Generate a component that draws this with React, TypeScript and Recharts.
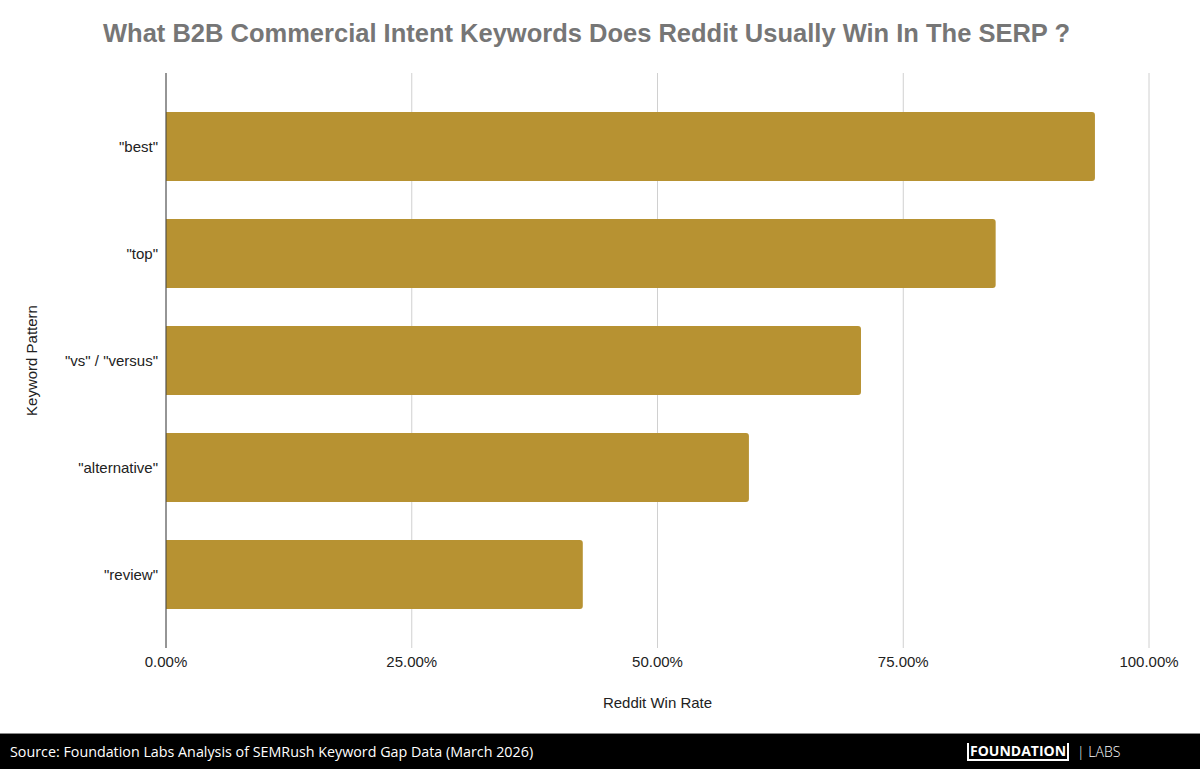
import { Bar, BarChart, CartesianGrid, XAxis, YAxis } from 'recharts';

const CATEGORIES = ['"best"', '"top"', '"vs" / "versus"', '"alternative"', '"review"'];
const WIN_RATE = [0.945, 0.844, 0.707, 0.593, 0.424];
const X_TICKS = [0, 0.25, 0.5, 0.75, 1];

const TITLE = 'What B2B Commercial Intent Keywords Does Reddit Usually Win In The SERP ?';
const SOURCE = 'Source: Foundation Labs Analysis of SEMRush Keyword Gap Data (March 2026)';

const BAR_COLOR = '#B79232';
const SANS = '"Liberation Sans", Arial, sans-serif';

const data = CATEGORIES.map((name, i) => ({ name, rate: WIN_RATE[i] }));

export default function App() {
  return (
    <div style={{ position: 'fixed', left: 0, top: 0, width: 1200, height: 769, background: '#fff', overflow: 'hidden', fontFamily: SANS }}>
      <div style={{ position: 'absolute', left: 103, top: 19, whiteSpace: 'nowrap', fontSize: 25.5, fontWeight: 700, color: '#767676' }}>
        {TITLE}
      </div>

      <div style={{ position: 'absolute', left: 0, top: 0 }}>
        <BarChart
          width={1200}
          height={733}
          data={data}
          layout="vertical"
          margin={{ top: 73, right: 51, bottom: 0, left: 10 }}
          barCategoryGap="17.8%"
        >
          <CartesianGrid horizontal={false} stroke="#d0d0d0" />
          <XAxis
            type="number"
            domain={[0, 1]}
            ticks={X_TICKS}
            tickFormatter={(v: number) => `${(v * 100).toFixed(2)}%`}
            axisLine={false}
            tickLine={false}
            height={85}
            tick={{ fontSize: 15, fill: '#222', fontFamily: SANS }}
            label={{ value: 'Reddit Win Rate', position: 'insideBottom', offset: 25, style: { fontSize: 15, fill: '#222', fontFamily: SANS } }}
          />
          <YAxis
            type="category"
            dataKey="name"
            width={156}
            padding={{ top: 20, bottom: 20 }}
            axisLine={{ stroke: '#444' }}
            tickLine={false}
            tick={{ fontSize: 15, fill: '#222', fontFamily: SANS }}
            label={{ value: 'Keyword Pattern', angle: -90, position: 'insideLeft', offset: 22, style: { textAnchor: 'middle', fontSize: 15, fill: '#222', fontFamily: SANS } }}
          />
          <Bar dataKey="rate" fill={BAR_COLOR} radius={[0, 3, 3, 0]} isAnimationActive={false} />
        </BarChart>
      </div>

      <div style={{ position: 'absolute', left: 0, top: 733, width: 1200, height: 36, background: '#000', borderTop: '1px solid #888', boxSizing: 'border-box' }}>
        <div style={{ position: 'absolute', left: 10, top: 8, color: '#fff', fontFamily: '"Open Sans", sans-serif', fontSize: 14.3, whiteSpace: 'nowrap' }}>
          {SOURCE}
        </div>
        <div style={{ position: 'absolute', left: 967, top: 8, color: '#fff', fontFamily: '"Open Sans", sans-serif', fontSize: 14, whiteSpace: 'nowrap', display: 'flex', alignItems: 'center' }}>
          <span style={{ fontWeight: 700, borderLeft: '2px solid #fff', borderRight: '2px solid #fff', borderBottom: '2px solid #fff', padding: '0 1px', lineHeight: '16px' }}>FOUNDATION</span>
          <span style={{ marginLeft: 8, fontWeight: 300 }}>| LABS</span>
        </div>
      </div>
    </div>
  );
}
